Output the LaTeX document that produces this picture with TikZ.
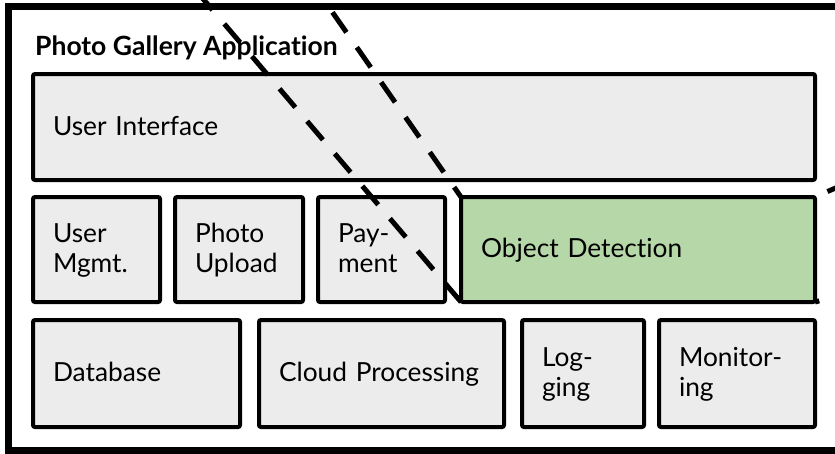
\documentclass[tikz,border=0pt]{standalone}
\usepackage{fontspec}
\setmainfont[Ligatures=NoCommon]{Lato}
\usepackage{xcolor}
\definecolor{boxgray}{RGB}{236,236,236}
\definecolor{detgreen}{RGB}{182,215,168}
\usetikzlibrary{positioning}
\newcommand{\rowstrut}{\rule[-4.5pt]{0pt}{25pt}}

\begin{document}
\begin{tikzpicture}[x=1pt, y=-1pt,
  part/.style={draw=black, line width=4pt, fill=boxgray, rounded corners=2pt,
    outer sep=0pt, inner xsep=20pt, inner ysep=0pt, anchor=north west,
    align=left, font=\fontsize{26.3}{30}\selectfont,
    execute at begin node=\rowstrut, execute at end node=\rowstrut},
  zoomline/.style={black, line width=5pt, dash pattern=on 24.4pt off 18.2pt}]
  \useasboundingbox (0,0) rectangle (835,453);
  \clip (0,0) rectangle (835,453);

  % Outer frame
  \draw[line width=7pt] (8.5,6) rectangle (839,450);
  \node[font=\fontsize{26.5}{30}\selectfont\bfseries, anchor=base west, inner sep=0pt]
    (title) at (35,55) {Photo Gallery Application};

  % --- Top row ---
  \node[part, minimum width=782pt, minimum height=106pt, text width=742pt]
    (ui) at (33,74) {User Interface};

  % --- Middle row ---
  \node[part, minimum width=127pt, minimum height=105pt, text width=87pt]
    (usermgmt) at (33,197) {User\\Mgmt.};
  \node[part, minimum width=128pt, minimum height=105pt, text width=88pt]
    (upload) at (175,197) {Photo\\Upload};
  \node[part, minimum width=127pt, minimum height=105pt, text width=87pt]
    (payment) at (318,197) {Pay-\\ment};
  \node[part, fill=detgreen, minimum width=354pt, minimum height=105pt, text width=314pt]
    (detect) at (461,197) {Object Detection};

  % --- Bottom row ---
  \node[part, minimum width=207pt, minimum height=107pt, text width=167pt]
    (database) at (33,320) {Database};
  \node[part, minimum width=245pt, minimum height=107pt, text width=205pt]
    (cloud) at (259,320) {Cloud Processing};
  \node[part, minimum width=122pt, minimum height=107pt, text width=82pt]
    (logging) at (522,320) {Log-\\ging};
  \node[part, minimum width=156pt, minimum height=107pt, text width=116pt]
    (monitor) at (659,320) {Monitor-\\ing};

  % Zoom lines
  \coordinate (zoomtl) at (241.8,-118);
  \coordinate (zoombl) at (101,-121);
  \coordinate (zoomtr) at (1000,116);
  \coordinate (zoombr) at (1000,250);
  \draw[zoomline, dash phase=12.4pt] (detect.north west) -- (zoomtl);
  \draw[zoomline] (detect.south west) -- (zoombl);
  \draw[zoomline, dash phase=29pt] (detect.north east) -- (zoomtr);
  \draw[zoomline, dash phase=20pt] (detect.south east) -- (zoombr);
\end{tikzpicture}
\end{document}
